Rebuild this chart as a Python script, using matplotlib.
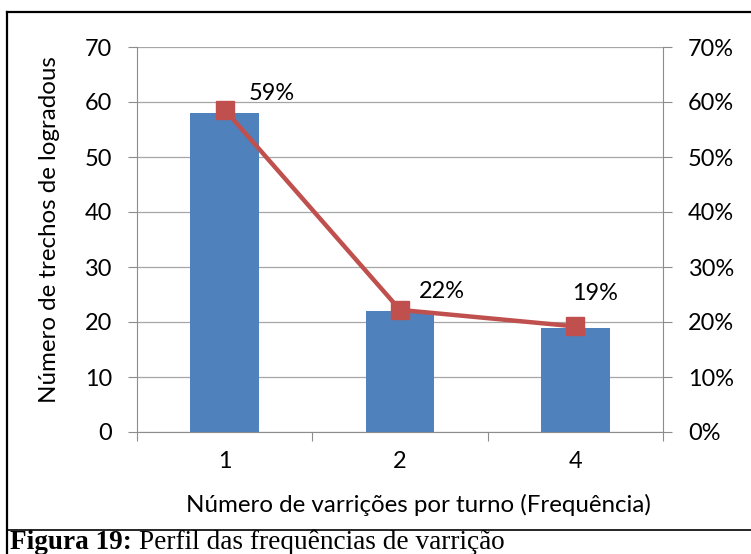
import matplotlib
matplotlib.use("Agg")
import matplotlib.pyplot as plt
from matplotlib.lines import Line2D

categories = ["1", "2", "4"]
counts = [58, 22, 19]
percents = [58.6, 22.2, 19.2]
pct_labels = ["59%", "22%", "19%"]
left_ticks = [0, 10, 20, 30, 40, 50, 60, 70]
right_ticks = [0, 10, 20, 30, 40, 50, 60, 70]
xlabel = "Número de varrições por turno (Frequência)"
ylabel = "Número de trechos de logradous"
cap_bold = "Figura 19:"
cap_rest = " Perfil das frequências de varrição"

W, H = 751, 554
fig = plt.figure(figsize=(W / 100, H / 100), dpi=100)
font = ["Lato", "DejaVu Sans"]
plt.rcParams["font.family"] = font
renderer = fig.canvas.get_renderer()
PX = 0.72  # points per pixel


def fit_size(text, target_px, family=None, weight="normal"):
    t = fig.text(0, 0, text, fontsize=10, family=family or font, fontweight=weight)
    w = t.get_window_extent(renderer).width
    t.remove()
    return 10 * target_px / w


def fx(px):
    return px / W


def fy(py):
    return 1 - py / H


FS = fit_size(xlabel, 466)
TS = fit_size("70", 27)
CS = fit_size(cap_bold + cap_rest, 485, family="Liberation Serif")

L, R, T, B = 137, 663, 47, 432
ax = fig.add_axes([fx(L), fy(B), (R - L) / W, (B - T) / H])
x = list(range(len(categories)))
ax.bar(x, counts, width=0.39, color="#4F81BD", zorder=2)
ax.set_xlim(-0.5, len(categories) - 0.5)
ax.set_ylim(0, 70)
ax.set_yticks(left_ticks)
ax.grid(axis="y", color="#A6A6A6", linewidth=0.9, zorder=0)
for s in ["top", "right"]:
    ax.spines[s].set_visible(False)
for s in ["left", "bottom"]:
    ax.spines[s].set_color("#8C8C8C")
ax.set_xticks([-0.5, 0.5, 1.5, 2.5])
ax.set_xticklabels([])
ax.set_xticks(x, minor=True)
ax.set_xticklabels(categories, minor=True)
ax.tick_params(axis="x", which="major", length=6.5, color="#8C8C8C")
ax.tick_params(axis="x", which="minor", length=0, pad=14, labelsize=TS)
ax.tick_params(axis="y", length=6.5, color="#8C8C8C", labelsize=TS, pad=11.5)

ax2 = ax.twinx()
ax2.set_ylim(0, 70)
ax2.set_yticks(right_ticks)
ax2.set_yticklabels([f"{t}%" for t in right_ticks])
ax2.tick_params(axis="y", length=6.5, color="#8C8C8C", labelsize=TS, pad=11.5)
for s in ["top", "left", "bottom"]:
    ax2.spines[s].set_visible(False)
ax2.spines["right"].set_color("#8C8C8C")
ax2.plot(x, percents, color="#C0504D", linewidth=3.2, marker="s", markersize=13.5,
         markerfacecolor="#C0504D", markeredgecolor="#C0504D", zorder=3)
offsets_px = [(47, 10), (42, 12), (20, 26)]
for xi, p, lab, (dx, dy) in zip(x, percents, pct_labels, offsets_px):
    ax2.annotate(lab, (xi, p), xytext=(dx * PX, dy * PX), textcoords="offset points",
                 ha="center", va="baseline", fontsize=TS)

# axis titles
fig.text(fx(418), fy(512), xlabel, fontsize=FS, ha="center", va="baseline")
fig.text(fx(56), fy(230), ylabel, fontsize=FS, ha="center", va="baseline",
         rotation=90, rotation_mode="anchor")

# border and caption
fig.add_artist(Line2D([fx(7), 1], [fy(12), fy(12)], color="black", lw=1.6))
fig.add_artist(Line2D([fx(7), fx(7)], [0, fy(12)], color="black", lw=1.6))
fig.add_artist(Line2D([fx(7), 1], [fy(530), fy(530)], color="black", lw=1.2))
t1 = fig.text(fx(10), fy(549), cap_bold, fontsize=CS, fontweight="bold",
              family="Liberation Serif", va="baseline")
bb = t1.get_window_extent(renderer)
fig.text(bb.x1 / W, fy(549), cap_rest, fontsize=CS,
         family="Liberation Serif", va="baseline")

fig.savefig("out.png", dpi=100)
